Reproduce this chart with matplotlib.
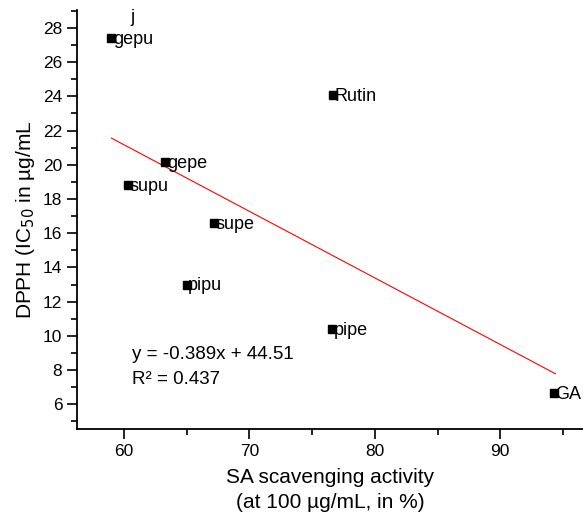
import matplotlib.pyplot as plt
from matplotlib.ticker import MultipleLocator

plt.rcParams['font.family'] = ['Liberation Sans', 'DejaVu Sans']

# SA scavenging (%) vs DPPH IC50 (ug/mL)
names = ['gepu', 'Rutin', 'gepe', 'supu', 'supe', 'pipu', 'pipe', 'GA']
sa = [59.0, 76.7, 63.3, 60.3, 67.2, 65.0, 76.6, 94.3]
dpph = [27.4, 24.1, 20.15, 18.8, 16.6, 13.0, 10.4, 6.65]

# linear fit
slope = -0.389
intercept = 44.51
r2 = 0.437
fit_x = [59.0, 94.4]

fig = plt.figure(figsize=(5.83, 5.24), dpi=100)
ax = fig.add_axes([0.132, 0.181, 0.868, 0.8])

ax.plot(fit_x, [slope * x + intercept for x in fit_x], color='red', lw=0.8)
ax.plot(sa, dpph, 's', color='black', ms=6, zorder=3)
for n, x, y in zip(names, sa, dpph):
    ax.annotate(n, (x, y), xytext=(1, -1), textcoords='offset points',
                ha='left', va='center', fontsize=13)

ax.text(60.6, 8.9, f'y = {slope}x + {intercept}', fontsize=13.5, va='center')
ax.text(60.6, 7.45, f'R² = {r2}', fontsize=13.5, va='center')
ax.text(60.7, 28.6, 'j', fontsize=13, ha='center', va='center')

ax.set_xlim(56.25, 96.6)
ax.set_ylim(4.55, 29.05)
ax.xaxis.set_major_locator(MultipleLocator(10))
ax.xaxis.set_minor_locator(MultipleLocator(5))
ax.yaxis.set_major_locator(MultipleLocator(2))
ax.yaxis.set_minor_locator(MultipleLocator(1))
ax.tick_params(which='major', length=7, width=1.2, labelsize=12.5)
ax.tick_params(which='minor', length=4, width=1.2)
ax.spines['top'].set_visible(False)
ax.spines['right'].set_visible(False)
ax.spines['left'].set_linewidth(1.3)
ax.spines['bottom'].set_linewidth(1.3)

ax.set_xlabel('SA scavenging activity\n(at 100 µg/mL, in %)', fontsize=15,
              linespacing=1.35, labelpad=7)
ax.set_ylabel('DPPH (IC$_{50}$ in µg/mL', fontsize=15, labelpad=4)

fig.savefig('out.png', dpi=100)
